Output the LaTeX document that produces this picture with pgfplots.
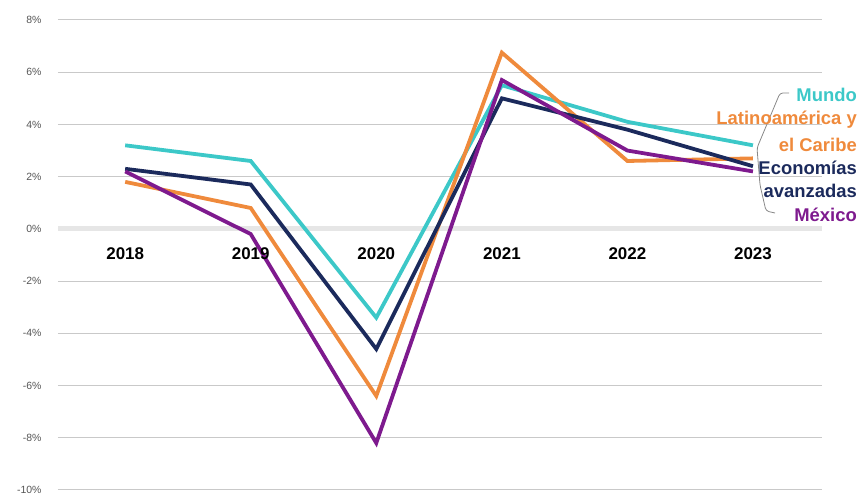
\documentclass[border=0pt]{standalone}
\usepackage{fontspec}
\setmainfont{Liberation Sans}
\usepackage{pgfplots}
\pgfplotsset{compat=1.18}
\definecolor{cMundo}{HTML}{3CC8C8}
\definecolor{cLat}{HTML}{EF8A3C}
\definecolor{cAva}{HTML}{1B2A5C}
\definecolor{cMex}{HTML}{7E1A8E}
\definecolor{cGrid}{HTML}{C9C9C9}
\definecolor{cZero}{HTML}{E6E6E6}
\definecolor{cTick}{HTML}{555555}
\begin{document}
\begin{tikzpicture}[x=1bp,y=1bp]
\begin{axis}[
  at={(0,0)}, anchor=south west,
  scale only axis, width=764bp, height=470bp,
  xmin=-0.535, xmax=5.55, ymin=-10, ymax=8,
  axis line style={draw=none},
  xtick=\empty,
  ytick={-10,-8,...,8},
  yticklabel={\pgfmathprintnumber{\tick}\%},
  /pgf/number format/assume math mode=true,
  yticklabel style={font=\fontsize{10.5}{12}\selectfont, text=cTick, xshift=-13bp},
  major tick length=0pt,
  ymajorgrids, grid style={cGrid, line width=1bp},
  clip=false,
]
\draw[cZero, line width=5bp] (axis cs:-0.535,0) -- (axis cs:5.55,0);
\addplot[cMundo, line width=3.8bp] coordinates {(0,3.2) (1,2.6) (2,-3.4) (3,5.5) (4,4.1) (5,3.2)};
\addplot[cLat, line width=3.8bp] coordinates {(0,1.8) (1,0.8) (2,-6.4) (3,6.75) (4,2.6) (5,2.7)};
\addplot[cAva, line width=3.8bp] coordinates {(0,2.3) (1,1.7) (2,-4.6) (3,5.0) (4,3.8) (5,2.4)};
\addplot[cMex, line width=3.8bp] coordinates {(0,2.2) (1,-0.2) (2,-8.2) (3,5.7) (4,3.0) (5,2.2)};
\node[font=\bfseries\fontsize{17}{19}\selectfont] at (axis cs:0,-0.95) {2018};
\node[font=\bfseries\fontsize{17}{19}\selectfont] at (axis cs:1,-0.95) {2019};
\node[font=\bfseries\fontsize{17}{19}\selectfont] at (axis cs:2,-0.95) {2020};
\node[font=\bfseries\fontsize{17}{19}\selectfont] at (axis cs:3,-0.95) {2021};
\node[font=\bfseries\fontsize{17}{19}\selectfont] at (axis cs:4,-0.95) {2022};
\node[font=\bfseries\fontsize{17}{19}\selectfont] at (axis cs:5,-0.95) {2023};
\end{axis}
\pgfresetboundingbox
\path (-58,-7) rectangle (804,490);
% bracket
\draw[cTick!70, line width=0.8bp, rounded corners=3bp] (731,397) -- (722,397) -- (699,342) -- (702,305) -- (708,279) -- (717,277);
\begin{scope}[font=\bfseries\fontsize{18.5}{20}\selectfont, inner sep=0pt]
\node[anchor=east, text=cMundo] at (799,395) {Mundo};
\node[anchor=east, text=cLat] at (799,370) {Latinoamérica y};
\node[anchor=east, text=cLat] at (799,345) {el Caribe};
\node[anchor=east, text=cAva] at (799,322) {Economías};
\node[anchor=east, text=cAva] at (799,299) {avanzadas};
\node[anchor=east, text=cMex] at (799,275) {México};
\end{scope}
\end{tikzpicture}
\end{document}
